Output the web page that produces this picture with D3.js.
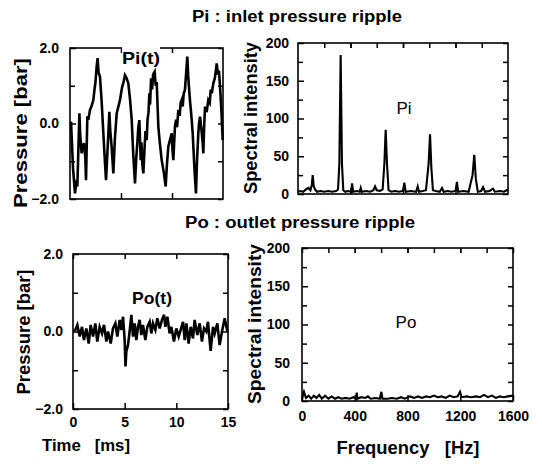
<!DOCTYPE html>
<html>
<head>
<meta charset="utf-8">
<script src="https://cdn.jsdelivr.net/npm/d3@7"></script>
<style>
  body { margin: 0; background: #fff; }
  svg { display: block; }
  text { font-family: "Liberation Sans", Arial, sans-serif; fill: #000; }
</style>
</head>
<body>
<div id="chart"></div>
<script>
// --- data ---
const piTime = [0.1,0.3,0.49,0.6,0.72,0.92,1.0,1.14,1.25,1.37,1.5,1.57,1.7,1.8,1.96,2.1,2.29,2.4,2.5,2.61,2.71,2.8,2.94,3.1,3.27,3.4,3.53,3.7,3.86,3.95,4.08,4.25,4.4,4.58,4.7,4.9,5.1,5.25,5.39,5.55,5.72,5.9,6.05,6.2,6.37,6.5,6.6,6.7,6.8,6.93,7.0,7.1,7.19,7.3,7.4,7.52,7.6,7.7,7.78,7.85,7.95,8.05,8.15,8.3,8.4,8.5,8.66,8.8,8.99,9.2,9.38,9.5,9.64,9.8,9.97,10.05,10.13,10.29,10.4,10.5,10.62,10.75,10.85,10.95,11.05,11.15,11.27,11.35,11.5,11.6,11.76,11.9,12.03,12.2,12.35,12.45,12.58,12.65,12.75,12.9,13.01,13.07,13.15,13.24,13.4,13.56,13.7,13.8,13.9,14.05,14.2,14.3,14.38,14.5,14.6,14.71,14.85,14.97];
const piPressure = [0.05,-1.2,-1.85,-1.6,-1.67,0.27,-0.3,-0.79,-0.6,-0.52,-0.9,-1.5,0.19,0.1,0.36,0.45,0.62,0.9,1.1,1.5,1.73,1.35,1.24,0.6,-0.26,-0.9,-1.5,-0.6,0.31,-0.2,-0.61,-1.32,-0.4,0.27,0.4,0.62,0.95,1.1,1.28,1.2,1.06,0.6,0.09,-0.8,-1.59,-0.9,-0.52,-0.1,0.09,-0.97,-0.5,-1.1,-1.32,-0.7,-0.2,-0.44,0.1,0.3,0.8,0.5,1.2,0.9,1.3,1.37,1.0,1.1,-0.08,-0.5,-0.97,-1.3,-1.67,-1.1,-0.61,-0.44,-0.26,-0.7,-0.97,-0.08,0.1,-0.1,0.36,0.2,0.55,0.62,0.45,0.8,0.89,1.2,1.77,1.2,0.62,0.2,-0.26,-1.2,-1.85,-1.0,-0.26,0.0,0.18,-0.2,-0.52,-0.79,-0.1,0.45,0.3,0.62,0.55,0.9,0.8,1.06,1.2,1.4,1.59,1.3,1.4,0.98,0.3,-0.44];

const poTime = [0.16,0.42,0.65,0.87,1.06,1.29,1.52,1.71,1.94,2.16,2.35,2.58,2.81,3.0,3.23,3.39,3.65,3.87,4.1,4.29,4.52,4.68,4.84,5.0,5.08,5.16,5.32,5.48,5.65,5.81,5.97,6.13,6.29,6.45,6.61,6.77,7.0,7.19,7.42,7.58,7.74,7.97,8.16,8.39,8.61,8.81,8.94,9.13,9.35,9.52,9.77,10.0,10.23,10.42,10.65,10.81,10.97,11.19,11.39,11.61,11.77,12.03,12.26,12.48,12.68,12.9,13.06,13.32,13.55,13.71,13.97,14.19,14.42,14.68,14.94];
const poPressure = [0.0,0.17,-0.13,0.12,-0.22,0.08,-0.31,0.17,-0.13,0.21,-0.26,0.12,-0.05,0.17,-0.26,0.0,-0.31,0.08,0.21,-0.13,0.3,0.04,0.38,-0.22,-0.9,-0.52,-0.35,0.0,0.43,-0.13,0.21,-0.22,0.12,0.3,-0.09,0.17,-0.22,0.12,0.25,-0.05,0.21,0.04,0.34,0.08,0.3,0.43,0.12,0.38,-0.05,0.12,-0.26,0.08,-0.13,0.04,0.25,-0.22,0.21,-0.31,0.12,-0.18,0.3,-0.09,0.21,-0.26,0.08,0.0,0.25,-0.5,0.12,-0.05,0.21,-0.35,0.0,0.34,0.0];

const piFreq = [0,20,40,60,80,95,105,112,120,130,145,170,200,230,260,290,305,315,325,335,345,360,380,405,412,420,450,470,478,486,520,550,575,587,600,625,645,658,668,678,690,710,740,770,800,810,820,860,900,912,922,950,975,995,1006,1016,1028,1050,1080,1097,1110,1140,1170,1200,1211,1220,1260,1300,1330,1343,1355,1370,1395,1410,1425,1460,1486,1500,1540,1570,1600];
const piSpectrum = [3,4,3,6,8,5,12,25,10,6,3,4,3,4,3,4,6,40,184,40,5,3,4,3,14,3,4,3,8,3,4,3,5,10,5,4,6,40,85,40,5,3,4,3,4,15,3,4,3,10,3,4,5,40,79,35,5,4,3,8,3,4,3,4,16,3,4,3,25,52,20,3,4,9,3,4,7,3,4,3,6];

const poFreq = [0,15,30,50,70,90,110,130,150,175,200,225,250,275,300,330,360,390,410,415,420,450,480,500,520,560,590,602,610,650,680,720,750,780,820,850,880,910,940,970,1000,1030,1060,1090,1120,1150,1180,1198,1210,1250,1280,1320,1350,1380,1410,1440,1470,1500,1530,1560,1600];
const poSpectrum = [3,12,4,7,3,7,4,8,3,7,3,6,3,5,3,4,3,5,3,11,3,5,4,6,3,4,3,12,3,3,4,3,5,3,6,4,6,4,6,5,7,5,6,4,7,5,6,12,5,6,5,6,5,8,5,7,4,6,5,6,7];

const timeTicks = [0, 5, 10, 15];
const timeMinor = [5, 10];
const pressureTicks = [-2, 0, 2];
const pressureMinor = [-1, 1];
const freqTicks = [0, 400, 800, 1200, 1600];
const freqMinor = [200, 400, 600, 800, 1000, 1200, 1400];
const spectrumTicks = [0, 50, 100, 150, 200];
const spectrumMinor = [25, 75, 125, 175];

const width = 542, height = 464;

const svg = d3.select('#chart')
  .append('svg')
  .attr('width', width)
  .attr('height', height);

svg.append('rect').attr('width', width).attr('height', height).attr('fill', '#fff');

// frames of the four plots (pixel boxes)
const panels = [
  { box: [70, 223, 48, 199], xDom: [0, 15], yDom: [-2, 2], xs: piTime, ys: piPressure,
    xMaj: timeMinor, xMin: [], yMaj: pressureTicks, yMin: pressureMinor, yFmt: d3.format('.1f'),
    xLabels: false, yPad: 11, sw: 2.6 },
  { box: [298, 508, 43, 194], xDom: [0, 1600], yDom: [0, 200], xs: piFreq, ys: piSpectrum,
    xMaj: freqTicks.slice(1, 4), xMin: freqMinor, yMaj: spectrumTicks, yMin: spectrumMinor, yFmt: d3.format('d'),
    xLabels: false, yPad: 9, sw: 2.1 },
  { box: [73, 228, 254, 409], xDom: [0, 15], yDom: [-2, 2], xs: poTime, ys: poPressure,
    xMaj: timeTicks, xMin: [], yMaj: pressureTicks, yMin: pressureMinor, yFmt: d3.format('.1f'),
    xLabels: true, xPad: 8, yPad: 10, sw: 2.6 },
  { box: [302, 513, 248, 401], xDom: [0, 1600], yDom: [0, 200], xs: poFreq, ys: poSpectrum,
    xMaj: freqTicks, xMin: freqMinor, yMaj: spectrumTicks, yMin: spectrumMinor, yFmt: d3.format('d'),
    xLabels: true, xPad: 10, yPad: 12, sw: 2.1 }
];

function styleAxis(g) {
  g.select('.domain').remove();
  g.selectAll('line').attr('stroke', '#000').attr('stroke-width', 1.5);
  g.attr('font-family', '"Liberation Sans", Arial, sans-serif')
    .attr('font-size', 14)
    .attr('font-weight', 'bold');
}

panels.forEach(function (p) {
  const [x0, x1, y0, y1] = p.box;
  const x = d3.scaleLinear().domain(p.xDom).range([x0, x1]);
  const y = d3.scaleLinear().domain(p.yDom).range([y1, y0]);
  const g = svg.append('g');

  // left
  g.append('g').attr('transform', 'translate(' + x0 + ',0)')
    .call(d3.axisLeft(y).tickValues(p.yMaj).tickSize(-6).tickPadding(p.yPad).tickFormat(p.yFmt))
    .call(styleAxis);
  g.append('g').attr('transform', 'translate(' + x0 + ',0)')
    .call(d3.axisLeft(y).tickValues(p.yMin).tickSize(-5).tickFormat(''))
    .call(styleAxis);
  // right
  g.append('g').attr('transform', 'translate(' + x1 + ',0)')
    .call(d3.axisRight(y).tickValues(p.yMaj.concat(p.yMin)).tickSize(-5).tickFormat(''))
    .call(styleAxis);
  // bottom
  g.append('g').attr('transform', 'translate(0,' + y1 + ')')
    .call(d3.axisBottom(x).tickValues(p.xMaj).tickSize(-6).tickPadding(p.xPad || 8)
      .tickFormat(p.xLabels ? d3.format('d') : ''))
    .call(styleAxis);
  // top
  g.append('g').attr('transform', 'translate(0,' + y0 + ')')
    .call(d3.axisTop(x).tickValues(p.xMaj.concat(p.xMin)).tickSize(-5).tickFormat(''))
    .call(styleAxis);

  const line = d3.line()
    .x(d => x(d[0]))
    .y(d => y(d[1]));

  g.append('path')
    .datum(d3.zip(p.xs, p.ys))
    .attr('d', line)
    .attr('fill', 'none')
    .attr('stroke', '#000')
    .attr('stroke-width', p.sw)
    .attr('stroke-linejoin', 'miter');

  g.append('rect')
    .attr('x', x0).attr('y', y0)
    .attr('width', x1 - x0).attr('height', y1 - y0)
    .attr('fill', 'none')
    .attr('stroke', '#000')
    .attr('stroke-width', 1.6);
});

// titles
function label(txt, cx, cy, size, len, weight, rot) {
  const t = svg.append('text')
    .attr('transform', 'translate(' + cx + ',' + cy + ')' + (rot ? ' rotate(-90)' : ''))
    .attr('text-anchor', 'middle')
    .attr('dominant-baseline', 'central')
    .attr('font-size', size)
    .attr('font-weight', weight || 'bold')
    .text(txt);
  if (len) t.attr('textLength', len).attr('lengthAdjust', 'spacingAndGlyphs');
  return t;
}

label('Pi : inlet pressure ripple', 297, 16, 16, 210);
label('Po : outlet pressure ripple', 300, 222, 16, 230);

label('Pressure [bar]', 21, 133, 18, 150, 'bold', true);
label('Spectral intensity', 251, 118, 18, 152, 'bold', true);
label('Pressure [bar]', 24, 332, 18, 125, 'bold', true);
label('Spectral intensity', 255, 324, 18, 160, 'bold', true);

label('Time\u00a0\u00a0\u00a0[ms]', 86, 445, 17, 88);
label('Frequency\u00a0\u00a0\u00a0[Hz]', 408, 448, 18, 143);

// in-plot labels
svg.append('rect').attr('x', 122).attr('y', 45).attr('width', 38).attr('height', 8).attr('fill', '#fff');
label('Pi(t)', 141, 58, 17, 38);
label('Pi', 404, 108, 17, null, 'normal');
label('Po(t)', 152, 298, 17, 40);
label('Po', 406, 322, 17, null, 'normal');
</script>
</body>
</html>
